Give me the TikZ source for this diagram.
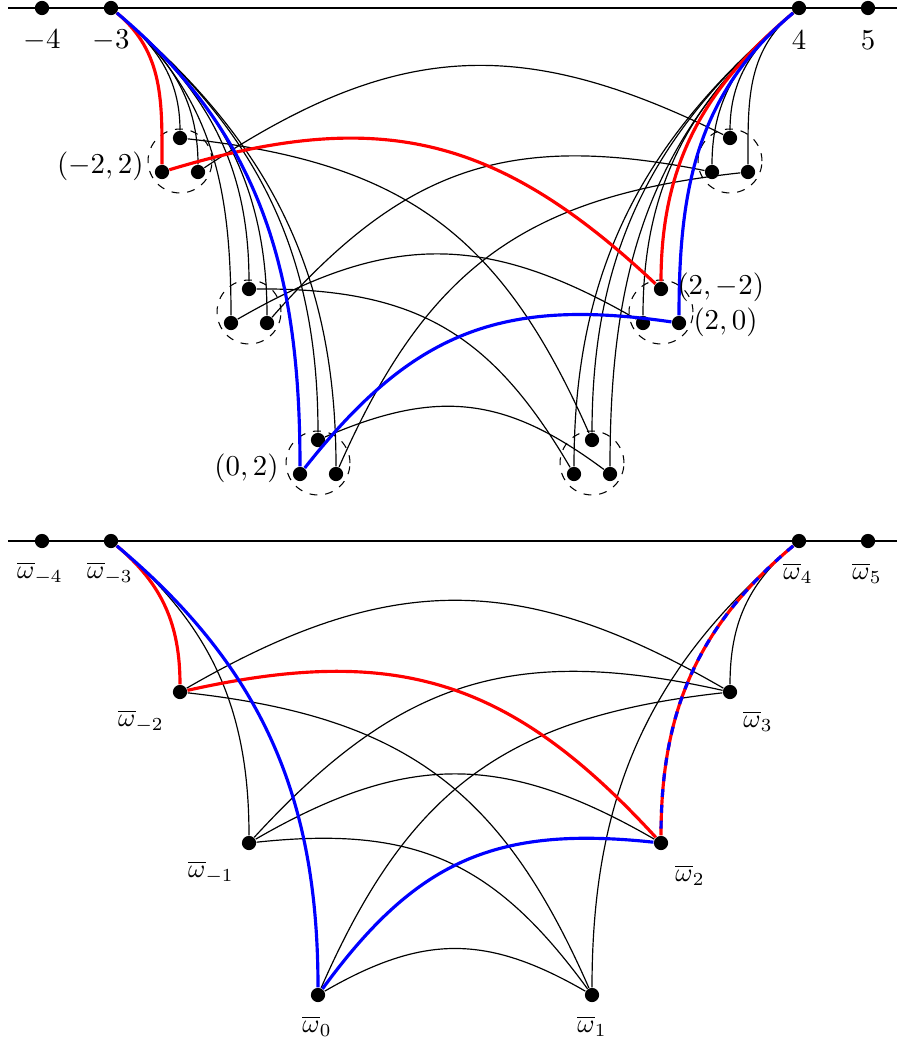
\documentclass[tikz,border=0pt]{standalone}
\usepackage{tikz}
\begin{document}
\begin{tikzpicture}[x=0.38pt,y=0.38pt,
  dot/.style={circle,fill=black,inner sep=0pt,minimum size=5.4pt},
  grp/.style={draw,dashed,circle,minimum size=24.3pt,inner sep=0pt,line width=0.4pt},
  thin edge/.style={line width=0.45pt},
  hl/.style={line width=1.2pt},
  lab/.style={inner sep=0pt},
  clab/.style={inner sep=0pt,font=\fontsize{10.95}{13}\selectfont},
  fromL/.style={out=-40,in=90},
  fromR/.style={out=220,in=90},
  cross/.style={bend left=30,looseness=1.12}]
\useasboundingbox (0,0) rectangle (897,-1046);

% ---------------- top graph ----------------
\draw[thin edge] (8,-8) -- (897,-8);
\node[dot] (tm4) at (42,-8) {};
\node[dot] (tm3) at (111,-8) {};
\node[dot] (tp4) at (799,-8) {};
\node[dot] (tp5) at (868,-8) {};
\node[clab] (ltm4) at (42,-40) {$-4$};
\node[clab] (ltm3) at (111,-40) {$-3$};
\node[clab] (ltp4) at (799,-40) {$4$};
\node[clab] (ltp5) at (868,-40) {$5$};

\foreach \n/\x/\y in {m2/180/161, m1/249/312, z/318/463, p1/592/463, p2/661/312, p3/730/161} {
  \node[grp] (c\n) at (\x,-\y) {};
  \node[dot] (\n-t) at (\x,-\y+23) {};
  \node[dot] (\n-l) at (\x-18,-\y-11) {};
  \node[dot] (\n-r) at (\x+18,-\y-11) {};
}

% edges from -3 and 4
\foreach \v in {m2-t,m2-r,m1-t,m1-l,m1-r,z-t,z-r}
  \draw[thin edge,fromL] (tm3) to (\v);
\foreach \v in {p3-t,p3-l,p3-r,p2-l,p1-t,p1-l,p1-r}
  \draw[thin edge,fromR] (tp4) to (\v);

% cross edges (black)
\draw[thin edge,cross] (m2-t) to (p1-t);
\draw[thin edge,cross] (m2-r) to (p3-t);
\draw[thin edge,cross] (m1-t) to (p1-l);
\draw[thin edge,cross] (m1-l) to (p2-l);
\draw[thin edge,cross] (m1-r) to (p3-l);
\draw[thin edge,cross] (z-t) to (p1-r);
\draw[thin edge,cross] (z-r) to (p3-r);

% red and blue paths
\draw[hl,red,fromL] (tm3) to (m2-l);
\draw[hl,red,cross] (m2-l) to (p2-t);
\draw[hl,red,fromR] (tp4) to (p2-t);
\draw[hl,blue,fromL] (tm3) to (z-l);
\draw[hl,blue,cross] (z-l) to (p2-r);
\draw[hl,blue,fromR] (tp4) to (p2-r);

\node[clab,anchor=east] (lm22) at (144,-166) {$(-2,2)$};
\node[clab,anchor=east] (l02) at (279,-468) {$(0,2)$};
\node[clab,anchor=west] (l2m2) at (677,-287) {$(2,-2)$};
\node[clab,anchor=west] (l20) at (693,-322) {$(2,0)$};

% ---------------- bottom graph ----------------
\draw[thin edge] (8,-541) -- (897,-541);
\node[dot] (bm4) at (42,-541) {};
\node[dot] (bm3) at (111,-541) {};
\node[dot] (bm2) at (180,-692) {};
\node[dot] (bm1) at (249,-843) {};
\node[dot] (b0) at (318,-995) {};
\node[dot] (b1) at (592,-995) {};
\node[dot] (b2) at (661,-843) {};
\node[dot] (b3) at (730,-692) {};
\node[dot] (b4) at (799,-541) {};
\node[dot] (b5) at (868,-541) {};

\draw[thin edge,fromL] (bm3) to (bm1);
\draw[thin edge,fromR] (b4) to (b3);
\draw[thin edge,fromR] (b4) to (b1);
\draw[thin edge,cross] (bm2) to (b1);
\draw[thin edge,cross] (bm2) to (b3);
\draw[thin edge,cross] (bm1) to (b1);
\draw[thin edge,cross] (bm1) to (b2);
\draw[thin edge,cross] (bm1) to (b3);
\draw[thin edge,cross] (b0) to (b1);
\draw[thin edge,cross] (b0) to (b3);

\draw[hl,red,fromL] (bm3) to (bm2);
\draw[hl,red,cross] (bm2) to (b2);
\draw[hl,blue,fromL] (bm3) to (b0);
\draw[hl,blue,cross] (b0) to (b2);
\draw[hl,red,fromR] (b4) to (b2);
\draw[hl,blue,dashed,fromR] (b4) to (b2);

\node[lab] (lbm4) at (40,-573) {$\overline{\omega}_{-4}$};
\node[lab] (lbm3) at (110,-573) {$\overline{\omega}_{-3}$};
\node[lab] (lbm2) at (141,-721) {$\overline{\omega}_{-2}$};
\node[lab] (lbm1) at (211,-872) {$\overline{\omega}_{-1}$};
\node[lab] (lb0) at (317,-1026) {$\overline{\omega}_{0}$};
\node[lab] (lb1) at (592,-1026) {$\overline{\omega}_{1}$};
\node[lab] (lb2) at (690,-875) {$\overline{\omega}_{2}$};
\node[lab] (lb3) at (758,-721) {$\overline{\omega}_{3}$};
\node[lab] (lb4) at (798,-573) {$\overline{\omega}_{4}$};
\node[lab] (lb5) at (867,-573) {$\overline{\omega}_{5}$};
\end{tikzpicture}
\end{document}
